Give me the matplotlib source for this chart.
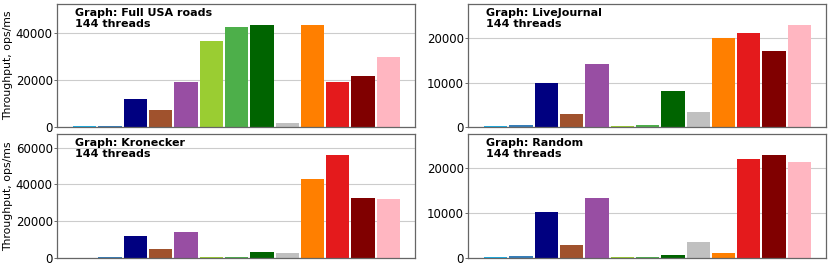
import matplotlib
matplotlib.use("Agg")
from matplotlib import pyplot as plt

# 13 algorithms, same colour order in every panel
colors = ['#1ab0e8', '#377eb8', '#000080', '#a0522d', '#984ea3',
          '#9acd32', '#4daf4a', '#006400', '#c0c0c0', '#ff7f00',
          '#e41a1c', '#800000', '#ffb6c1']

graphs = ['Full USA roads', 'LiveJournal', 'Kronecker', 'Random']

usa_roads = [600, 450, 12000, 7350, 19200, 36300, 42300, 43000,
             1700, 43400, 19100, 21800, 29800]
livejournal = [250, 450, 10000, 3000, 14200, 300, 450, 8080,
               3350, 20200, 21200, 17150, 23150]
kronecker = [250, 550, 11900, 4950, 14250, 550, 550, 3000,
             2500, 43150, 56150, 32750, 32200]
random_graph = [200, 370, 10250, 2900, 13300, 200, 250, 600,
                3450, 1050, 21850, 22900, 21250]

series = [usa_roads, livejournal, kronecker, random_graph]

plt.rcParams['font.family'] = 'DejaVu Sans'

W, H = 830, 269
fig = plt.figure(figsize=(W / 100, H / 100), dpi=100)

# panel rectangles in pixels: left, top, right, bottom
boxes = [(57, 4, 415, 127), (468, 4, 826, 127),
         (57, 134, 415, 258), (468, 134, 826, 258)]

for i, (name, vals) in enumerate(zip(graphs, series)):
    l, t, r, b = boxes[i]
    ax = fig.add_axes([l / W, (H - b) / H, (r - l) / W, (b - t) / H])
    ax.bar(range(len(vals)), vals, width=0.92, color=colors,
           linewidth=0, zorder=3)
    ax.set_xlim(-1.1, 13.05)
    ax.set_ylim(0, max(vals) * 1.2)
    ax.set_xticks([])
    ax.yaxis.grid(True, color='#cccccc', linewidth=0.8, zorder=0)
    ax.tick_params(axis='y', labelsize=8.5, length=2, width=0.6,
                   color='#555555', pad=1)
    for s in ax.spines.values():
        s.set_color('#666666')
        s.set_linewidth(0.9)
        s.set_zorder(4)
    ax.text(0.05, 0.97, 'Graph: ' + name + '\n144 threads',
            transform=ax.transAxes, ha='left', va='top',
            fontsize=8, fontweight='bold', linespacing=1.15)
    if i % 2 == 0:
        ax.set_ylabel('Throughput, ops/ms', fontsize=7.8, labelpad=2)

fig.savefig('out.png', dpi=100)
